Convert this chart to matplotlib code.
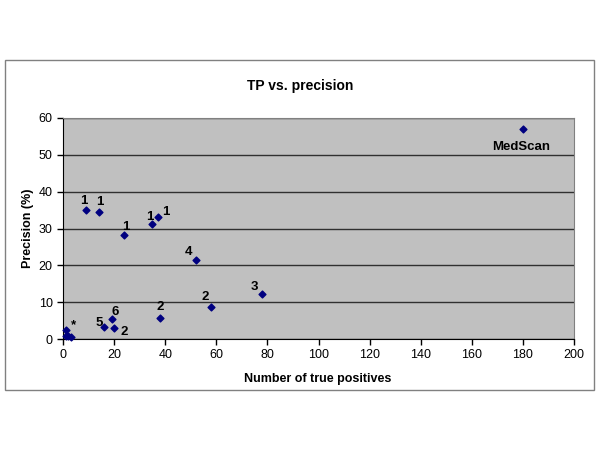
import matplotlib.pyplot as plt
from matplotlib.patches import Rectangle

plt.rcParams['font.family'] = ['Liberation Sans', 'DejaVu Sans']

# data
tp = [9, 14, 24, 35, 37, 38, 19, 16, 20, 52, 58, 78, 180, 1, 1.2, 2, 3]
precision = [34.9, 34.4, 28.3, 31.2, 33.0, 5.7, 5.4, 3.3, 3.1, 21.5, 8.8, 12.3, 57.0, 2.5, 0.8, 0.9, 0.5]
labels = ['1', '1', '1', '1', '1', '2', '6', '5', '2', '4', '2', '3', 'MedScan', '*', '', '', '']
# label offsets in pixels (dx, dy up)
offsets = [(-2, 9), (1, 10), (1, 8), (-3, 7), (8, 5), (0, 11), (4, 7), (-5, 4), (10, -4),
           (-7, 8), (-6, 10), (-8, 7), (-2, -18), (8, 5), (0, 0), (0, 0), (0, 0)]

fig = plt.figure(figsize=(6, 4.5), dpi=100)
fig.patch.set_facecolor('white')

# outer chart frame
fig.patches.append(Rectangle((5 / 600, 1 - 390 / 450), 589 / 600, 330 / 450,
                             transform=fig.transFigure, fill=False,
                             edgecolor='#808080', linewidth=1))

ax = fig.add_axes([63 / 600, 1 - 339 / 450, 511 / 600, 221 / 450])
ax.set_facecolor('#C0C0C0')
ax.set_xlim(0, 200)
ax.set_ylim(0, 60)
ax.set_xticks(range(0, 201, 20))
ax.set_yticks(range(0, 61, 10))
ax.yaxis.grid(True, color='#303030', linewidth=1)
ax.set_axisbelow(True)
for side in ['top', 'right']:
    ax.spines[side].set_color('#808080')
for side in ['left', 'bottom']:
    ax.spines[side].set_color('black')
ax.tick_params(direction='out', length=4, width=1, labelsize=9, colors='black')

ax.scatter(tp, precision, marker='D', s=12, color='#000080', zorder=3, clip_on=False)

for x, y, lab, (dx, dy) in zip(tp, precision, labels, offsets):
    if lab:
        ax.annotate(lab, (x, y), xytext=(dx, dy), textcoords='offset pixels',
                    ha='center', va='center', fontsize=9.5, fontweight='bold', zorder=4)

fig.text(0.5, 1 - 86 / 450, 'TP vs. precision', ha='center', va='center',
         fontsize=10, fontweight='bold')
fig.text(318 / 600, 1 - 379 / 450, 'Number of true positives', ha='center', va='center',
         fontsize=9, fontweight='bold')
fig.text(28 / 600, 1 - 228 / 450, 'Precision (%)', ha='center', va='center',
         rotation=90, fontsize=9, fontweight='bold')

fig.savefig('out.png', dpi=100)
